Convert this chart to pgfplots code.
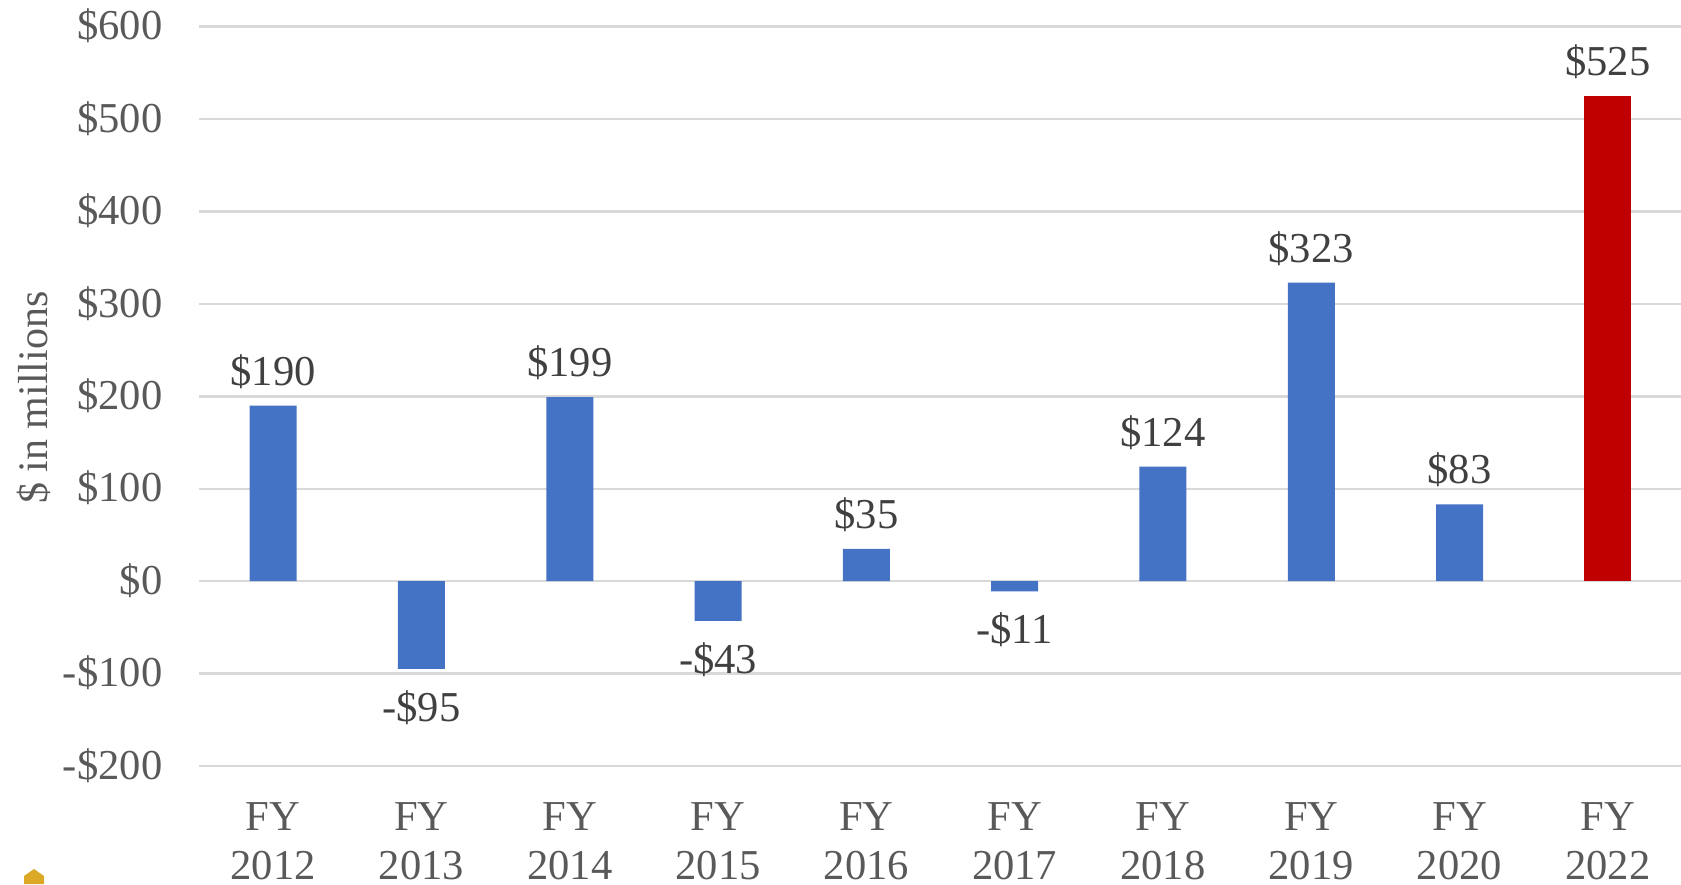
\documentclass[border=0pt]{standalone}
\usepackage{pgfplots}
\pgfplotsset{compat=1.18}
\usepackage{fontspec}
\setmainfont{Liberation Serif}
\definecolor{gridc}{HTML}{D9D9D9}
\definecolor{tickc}{HTML}{595959}
\definecolor{labc}{HTML}{404040}
\definecolor{barb}{HTML}{4472C4}
\definecolor{barr}{HTML}{C00000}
\definecolor{gold}{HTML}{DBA926}
\begin{document}
\begin{tikzpicture}[x=0.5pt,y=0.5pt]
\useasboundingbox (0,0) rectangle (1681,884);
\fill[gold] (24,0) -- (24,8) -- (34,15) -- (44,8) -- (44,0) -- cycle;
\begin{axis}[
  at={(99.5pt,59pt)}, anchor=south west,
  scale only axis, width=741.5pt, height=369.7pt,
  xmin=-0.5, xmax=9.5, ymin=-200, ymax=600,
  axis line style={draw=none},
  major tick length=0pt,
  ymajorgrids, grid style={gridc, line width=1.2pt},
  xtick={0,...,9},
  xticklabels={FY\\2012,FY\\2013,FY\\2014,FY\\2015,FY\\2016,FY\\2017,FY\\2018,FY\\2019,FY\\2020,FY\\2022},
  ytick={-200,-100,0,100,200,300,400,500,600},
  yticklabels={-\$200,-\$100,\$0,\$100,\$200,\$300,\$400,\$500,\$600},
  tick label style={font=\fontsize{21.3}{24.3}\selectfont, text=tickc},
  xticklabel style={align=center, yshift=-15pt},
  yticklabel style={xshift=-14.8pt, yshift=0.3pt},
  ylabel={\$ in millions},
  every axis y label/.style={at={(axis description cs:-0.1113,0.498)}, rotate=90, anchor=center, font=\fontsize{21}{25}\selectfont, text=tickc},
  ybar, bar width=23.5pt, bar shift=0pt,
  clip=false,
  point meta=explicit symbolic,
  nodes near coords,
  every node near coord/.append style={font=\fontsize{21.3}{25}\selectfont, text=labc},
  nodes near coords style={inner sep=3pt},
]
\addplot[draw=none, fill=barb, every node near coord/.append style={yshift=5.4pt}] coordinates {
 (0,190)[\$190] (2,199)[\$199] (4,35)[\$35]
 (6,124)[\$124] (7,323)[\$323] (8,83)[\$83]};
\addplot[draw=none, fill=barb, every node near coord/.append style={anchor=north, yshift=-7.7pt}] coordinates {
 (1,-95)[-\$95] (3,-43)[-\$43] (5,-11)[-\$11]};
\addplot[draw=none, fill=barr, every node near coord/.append style={yshift=5.4pt}] coordinates {(9,525)[\$525]};
\end{axis}
\end{tikzpicture}
\end{document}
